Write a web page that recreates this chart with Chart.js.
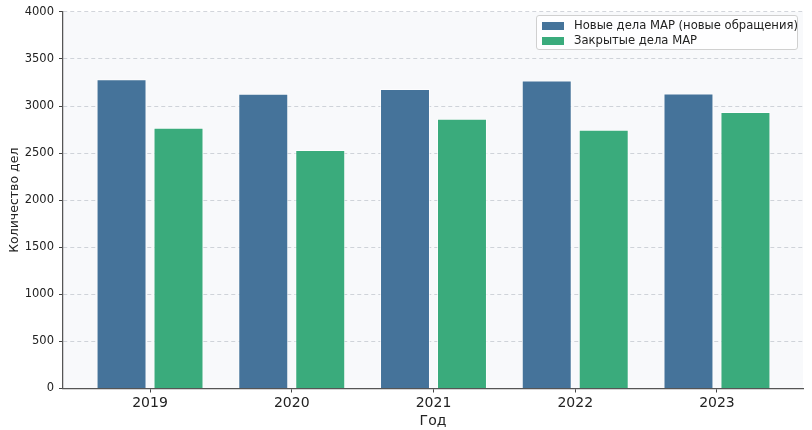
<!DOCTYPE html>
<html><head><meta charset="utf-8">
<script src="https://cdn.jsdelivr.net/npm/chart.js@4/dist/chart.umd.min.js"></script>
<style>
html,body{margin:0;padding:0;background:#fff;}
#wrap{position:relative;width:812px;height:430px;}
#legend{position:absolute;left:536px;top:15px;width:262px;height:35px;border:1px solid #d0d0d0;border-radius:3px;background:rgba(255,255,255,0.85);font-family:"DejaVu Sans",sans-serif;font-size:11.6px;color:#222;box-sizing:border-box;padding:2px 0 0 5px;}
.item{height:15px;line-height:15px;display:flex;align-items:center;white-space:nowrap;}
.sw{width:22px;height:8px;margin-right:10px;flex-shrink:0;}
</style></head>
<body><div id="wrap"><canvas id="c" width="812" height="430"></canvas><div id="legend"></div></div>
<script>
const years = [2019, 2020, 2021, 2022, 2023];
const newCases = [3285, 3130, 3180, 3272, 3132];
const closedCases = [2770, 2532, 2865, 2748, 2938];
const yTicks = [0, 500, 1000, 1500, 2000, 2500, 3000, 3500, 4000];
const seriesNames = ['Новые дела MAP (новые обращения)', 'Закрытые дела MAP'];
const colors = ['#45739a', '#3aab7c'];

const bgPlugin = {
  id: 'bg',
  beforeDraw(chart) {
    const {ctx, chartArea: a} = chart;
    ctx.save();
    ctx.fillStyle = '#f8f9fb';
    ctx.fillRect(a.left, a.top, a.right - a.left, a.bottom - a.top);
    ctx.restore();
  }
};

const chart = new Chart(document.getElementById('c'), {
  type: 'bar',
  data: {
    datasets: [
      {label: seriesNames[0], data: years.map((y, i) => ({x: y, y: newCases[i]})), backgroundColor: colors[0], borderColor: 'rgba(255,255,255,0.7)', borderWidth: 1},
      {label: seriesNames[1], data: years.map((y, i) => ({x: y, y: closedCases[i]})), backgroundColor: colors[1], borderColor: 'rgba(255,255,255,0.7)', borderWidth: 1}
    ]
  },
  options: {
    responsive: false,
    animation: false,
    devicePixelRatio: 1,
    layout: {padding: {left: 0, right: 9, top: 9.5, bottom: 0}},
    datasets: {bar: {categoryPercentage: 0.804, barPercentage: 0.877}},
    plugins: {legend: {display: false}, tooltip: {enabled: false}},
    scales: {
      x: {
        type: 'linear',
        offset: false,
        min: 2018.386,
        max: 2023.607,
        afterBuildTicks(s) { s.ticks = years.map(v => ({value: v})); },
        afterFit(s) { s.height = 41.5; },
        ticks: {font: {family: 'DejaVu Sans', size: 14}, color: '#222', padding: 2, callback: v => String(v), maxRotation: 0, autoSkip: false},
        grid: {display: true, offset: false, drawOnChartArea: false, drawTicks: true, tickLength: 4, tickColor: '#444', tickWidth: 1},
        border: {display: true, color: '#555', width: 1.25},
        title: {display: true, text: 'Год', font: {family: 'DejaVu Sans', size: 14}, color: '#222', padding: {top: 0, bottom: 0}}
      },
      y: {
        min: 0,
        max: 4000,
        afterBuildTicks(s) { s.ticks = yTicks.map(v => ({value: v})); },
        afterFit(s) { s.width = 63; },
        ticks: {font: {family: 'DejaVu Sans', size: 11.5}, color: '#222', padding: 5, callback: v => String(v)},
        grid: {color: 'rgba(180,185,195,0.6)', lineWidth: 1, drawTicks: true, tickLength: 4, tickColor: '#444', tickWidth: 1},
        border: {display: true, color: '#555', width: 1.25, dash: [4, 3]},
        title: {display: true, text: 'Количество дел', font: {family: 'DejaVu Sans', size: 12.5}, color: '#222', padding: {top: 7, bottom: 0}}
      }
    }
  },
  plugins: [bgPlugin]
});

const lg = document.getElementById('legend');
seriesNames.forEach((n, i) => {
  const d = document.createElement('div'); d.className = 'item';
  const s = document.createElement('span'); s.className = 'sw'; s.style.background = colors[i];
  const t = document.createElement('span'); t.textContent = n;
  d.appendChild(s); d.appendChild(t); lg.appendChild(d);
});
</script></body></html>
